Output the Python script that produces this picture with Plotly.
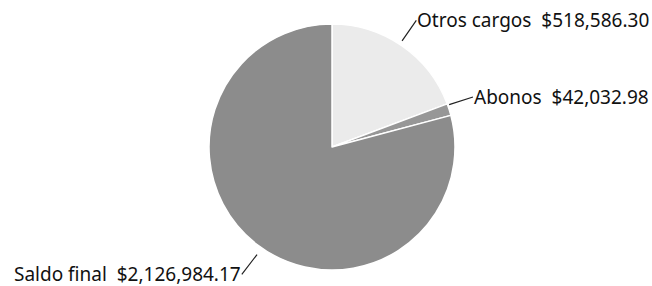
import math
import plotly.graph_objects as go

labels = ["Otros cargos", "Abonos", "Saldo final"]
values = [518586.30, 42032.98, 2126984.17]
colors = ["#ebebeb", "#979797", "#8c8c8c"]

W, H = 652, 286
cx, cy, r = 332, 147, 123

fig = go.Figure(go.Pie(
    labels=labels, values=values, sort=False, direction="clockwise",
    rotation=0, textinfo="none", hoverinfo="label+value",
    marker=dict(colors=colors, line=dict(color="white", width=1.5)),
    domain=dict(x=[(cx - r) / W, (cx + r) / W], y=[(H - cy - r) / H, (H - cy + r) / H]),
    showlegend=False,
))

total = sum(values)
cum = 0.0
ext = 25
for lab, v in zip(labels, values):
    mid = (cum + v / 2) / total * 2 * math.pi
    cum += v
    sx, sy = math.sin(mid), -math.cos(mid)
    px, py = cx + r * sx, cy + r * sy
    fig.add_annotation(
        x=px / W, y=1 - py / H, xref="paper", yref="paper",
        ax=ext * sx, ay=ext * sy, axref="pixel", ayref="pixel",
        text=f"{lab}  ${v:,.2f}", showarrow=True, arrowhead=0, arrowwidth=1.2,
        arrowcolor="#222", standoff=0, startstandoff=0,
        xanchor="left" if sx > 0 else "right", yanchor="middle", yshift=5 if sy < 0 else -10,
        borderpad=0,
        font=dict(family="Noto Sans", size=19, color="#111"),
    )

fig.update_layout(width=W, height=H, margin=dict(l=0, r=0, t=0, b=0),
                  paper_bgcolor="white", plot_bgcolor="white")
fig.write_html("out.html", config={"displayModeBar": False},
               post_script="document.body.style.margin='0';")
